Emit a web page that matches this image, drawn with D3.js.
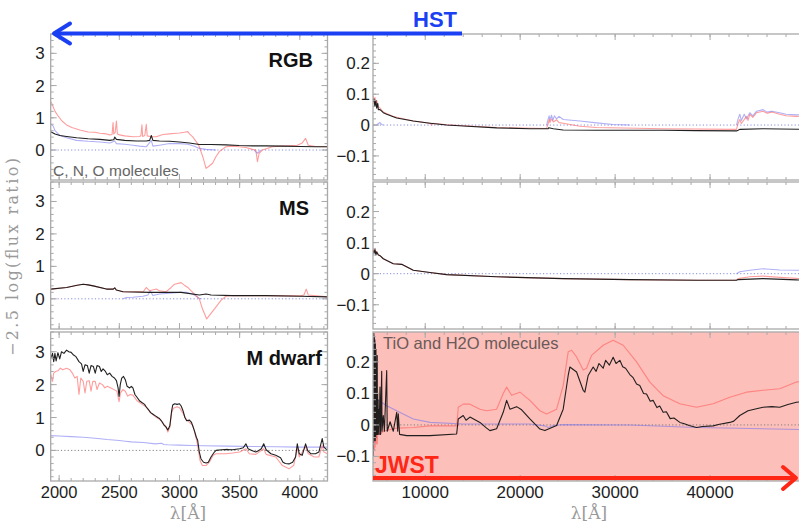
<!DOCTYPE html>
<html><head><meta charset="utf-8">
<script src="https://cdn.jsdelivr.net/npm/d3@7"></script>
<style>html,body{margin:0;padding:0;background:#fff;} svg{display:block;}</style>
</head><body><svg id="chart" width="799" height="523"></svg>
<script>
// ---------- data: [wavelength (Å), -2.5 log(flux ratio)] ----------
// RGB, optical (HST) range
const rgbOptRed = [[1930,1.5],[1938,1.45],[1966,1.2],[1993,1.05],[2024,0.9],[2062,0.78],[2106,0.7],[2172,0.62],[2241,0.56],[2297,0.55],[2338,0.52],[2393,0.5],[2421,0.47],[2440,0.48],[2448,0.85],[2454,0.5],[2466,0.55],[2476,0.9],[2484,0.5],[2503,0.47],[2545,0.44],[2613,0.41],[2669,0.42],[2680,0.45],[2688,0.78],[2694,0.42],[2712,0.45],[2724,0.8],[2732,0.44],[2766,0.41],[2807,0.41],[2862,0.48],[2917,0.5],[2973,0.52],[3000,0.53],[3041,0.55],[3069,0.57],[3083,0.5],[3110,0.41],[3151,0.2],[3165,0.1],[3193,-0.2],[3221,-0.57],[3240,-0.52],[3275,-0.41],[3304,-0.2],[3331,-0.05],[3386,0.1],[3441,0.12],[3496,0.1],[3552,0.08],[3607,0.02],[3634,0],[3648,-0.36],[3662,-0.1],[3689,0],[3772,0.1],[3855,0.12],[3979,0.15],[4020,0.22],[4048,0.36],[4070,0.15],[4131,0.11],[4230,0.1]];
const rgbOptBlack = [[1930,0.57],[1966,0.5],[2007,0.45],[2062,0.42],[2145,0.38],[2241,0.35],[2338,0.33],[2421,0.3],[2454,0.32],[2462,0.4],[2476,0.33],[2545,0.3],[2642,0.28],[2724,0.28],[2752,0.3],[2766,0.45],[2779,0.3],[2834,0.28],[2917,0.27],[3000,0.25],[3083,0.22],[3165,0.17],[3262,0.17],[3386,0.16],[3496,0.14],[3607,0.13],[3717,0.13],[3855,0.12],[4007,0.11],[4131,0.1],[4230,0.1]];
const rgbOptBlue = [[1930,0.8],[1950,0.75],[1966,0.6],[2007,0.45],[2062,0.38],[2145,0.3],[2241,0.27],[2338,0.25],[2421,0.22],[2462,0.28],[2476,0.2],[2545,0.18],[2613,0.15],[2669,0.12],[2724,0.1],[2766,0.3],[2779,0.12],[2834,0.15],[2917,0.2],[3000,0.2],[3069,0.18],[3124,0.12],[3165,0.05],[3221,0.02],[3304,0],[3310,null],[3610,null],[3620,0],[3648,-0.1],[3675,0],[3680,null]];
// RGB, infrared (JWST) range
const rgbIrBlack = [[4535,0.075],[4600,0.085],[4700,0.06],[4800,0.08],[4890,0.055],[5000,0.07],[5060,0.05],[5237,0.05],[5416,0.045],[5584,0.04],[5942,0.035],[6637,0.027],[6995,0.023],[8742,0.013],[10500,0.006],[12258,0],[14005,-0.003],[17521,-0.009],[21026,-0.012],[22953,-0.012],[23000,-0.009],[23500,-0.012],[24532,-0.016],[28047,-0.017],[31553,-0.017],[35058,-0.017],[38574,-0.018],[42784,-0.019],[42953,-0.017],[43131,-0.014],[45584,-0.012],[47342,-0.013],[50000,-0.014]];
const rgbIrRed = [[4535,0.095],[4600,0.07],[4710,0.09],[4800,0.065],[4890,0.08],[5060,0.06],[5237,0.055],[5584,0.042],[6637,0.028],[8742,0.013],[10500,0.006],[10700,0],[10800,0.006],[12258,0.001],[17521,-0.008],[22784,-0.011],[22953,0.005],[23050,0.018],[23131,0.008],[23300,0.02],[23500,0.01],[23837,0.017],[24100,0.008],[24532,0.006],[26289,-0.004],[28047,-0.008],[35058,-0.012],[42784,-0.014],[42953,0.005],[43131,0.018],[43300,0.005],[43837,0.028],[44000,0.015],[44184,0.035],[44500,0.025],[44900,0.04],[45584,0.045],[46000,0.038],[46500,0.042],[47342,0.035],[48000,0.03],[49100,0.028],[50000,0.03]];
const rgbIrBlue = [[4535,0],[4890,0],[5060,0.005],[5237,0.008],[5416,0.002],[5584,0],[5600,null],[22700,null],[22784,0],[22953,0.02],[23050,0.03],[23131,0.015],[23300,0.032],[23450,0.015],[23600,0.03],[23837,0.02],[24100,0.028],[24532,0.018],[26289,0.013],[28047,0.007],[29795,0.002],[31553,0],[31600,null],[42700,null],[42784,0],[42953,0.02],[43131,0.035],[43300,0.015],[43600,0.035],[43837,0.02],[44184,0.04],[44500,0.03],[44900,0.045],[45584,0.05],[46000,0.042],[46500,0.045],[47342,0.04],[48000,0.035],[49100,0.033],[50000,0.035]];

// MS, optical range
const msOptBlack = [[1930,0.3],[2062,0.35],[2150,0.42],[2200,0.45],[2241,0.43],[2283,0.4],[2393,0.3],[2450,0.3],[2462,0.34],[2475,0.27],[2531,0.22],[2752,0.2],[2944,0.2],[3014,0.2],[3165,0.12],[3221,0.15],[3262,0.12],[3441,0.1],[3717,0.1],[4007,0.08],[4230,0.06]];
const msOptRed = [[1930,0.3],[2062,0.35],[2150,0.42],[2200,0.45],[2241,0.43],[2283,0.4],[2393,0.3],[2450,0.3],[2462,0.34],[2475,0.27],[2531,0.22],[2700,0.22],[2724,0.35],[2750,0.25],[2807,0.3],[2834,0.25],[2890,0.22],[2931,0.35],[2958,0.45],[3014,0.5],[3041,0.42],[3069,0.35],[3110,0.2],[3165,0],[3190,-0.3],[3226,-0.62],[3262,-0.45],[3304,-0.25],[3345,-0.05],[3386,0.08],[3441,0.1],[3717,0.1],[4007,0.09],[4034,0.12],[4053,0.3],[4070,0.12],[4230,0.06]];
const msOptBlue = [[2525,null],[2531,0],[2560,0.04],[2613,0.05],[2696,0.08],[2738,0.12],[2757,0.25],[2779,0.1],[2834,0.15],[2944,0.18],[3000,0.2],[3055,0.2],[3110,0.15],[3165,0.02],[3180,0],[3185,null]];
// MS, infrared range
const msIrBlack = [[4535,0.075],[4600,0.065],[4710,0.078],[4800,0.06],[4890,0.07],[5060,0.06],[5237,0.058],[5584,0.048],[6637,0.032],[7521,0.03],[8742,0.011],[10500,0.004],[12258,-0.003],[17521,-0.01],[24532,-0.016],[31553,-0.019],[38574,-0.021],[42784,-0.021],[42953,-0.019],[45584,-0.016],[49100,-0.02],[50000,-0.021]];
const msIrRed = [[4535,0.08],[4600,0.068],[4710,0.082],[4800,0.062],[4890,0.072],[5060,0.062],[5237,0.058],[5584,0.048],[6637,0.032],[7521,0.03],[8742,0.011],[10500,0.004],[12258,-0.003],[17521,-0.01],[24532,-0.016],[31553,-0.019],[38574,-0.021],[42784,-0.021],[42953,-0.016],[44184,-0.01],[45584,-0.008],[47342,-0.012],[49100,-0.015],[50000,-0.016]];
const msIrBlue = [[4535,0],[4560,null],[42700,null],[42784,0],[43131,0.006],[44184,0.011],[45584,0.016],[47342,0.012],[49100,0.011],[50000,0.011]];

// M dwarf, optical range
const mdOptBlack = [[1930,2.8],[1945,2.95],[1955,2.7],[1965,2.95],[1975,2.72],[1990,2.97],[2005,2.78],[2020,3.0],[2040,2.95],[2062,3.05],[2080,3.0],[2100,2.98],[2120,2.9],[2140,2.85],[2165,2.7],[2186,2.63],[2200,2.4],[2215,2.6],[2235,2.58],[2250,2.35],[2265,2.58],[2285,2.55],[2300,2.35],[2315,2.58],[2335,2.55],[2350,2.4],[2365,2.48],[2385,2.4],[2400,2.3],[2420,2.35],[2440,2.25],[2460,2.2],[2476,2.12],[2490,1.9],[2498,1.64],[2508,2.0],[2520,2.2],[2535,2.25],[2550,2.15],[2565,1.95],[2586,1.9],[2600,1.95],[2613,1.9],[2630,1.7],[2650,1.6],[2670,1.5],[2690,1.45],[2710,1.4],[2724,1.32],[2740,1.25],[2760,1.15],[2780,1.1],[2800,1.05],[2820,1.0],[2834,0.97],[2850,0.9],[2870,0.78],[2890,0.7],[2903,0.62],[2920,0.75],[2935,1.2],[2944,1.38],[2960,1.42],[2980,1.4],[3000,1.42],[3014,1.35],[3030,1.2],[3045,1.0],[3060,0.9],[3083,0.92],[3100,0.85],[3124,0.6],[3140,0.4],[3151,0.31],[3165,-0.05],[3179,-0.26],[3200,-0.36],[3221,-0.38],[3240,-0.36],[3262,-0.2],[3290,-0.05],[3304,0],[3350,0.02],[3400,0.03],[3441,0.02],[3500,0.05],[3530,0.08],[3552,0.2],[3570,0.05],[3600,0],[3634,-0.05],[3660,0.0],[3680,0.05],[3700,0.2],[3720,0.02],[3760,-0.1],[3800,-0.15],[3840,-0.22],[3860,-0.36],[3880,-0.4],[3910,-0.41],[3940,-0.36],[3965,-0.2],[3979,0.2],[3995,-0.1],[4020,-0.15],[4048,0.2],[4065,0.0],[4090,-0.1],[4130,-0.1],[4158,-0.05],[4186,0.36],[4200,0.1],[4230,0.0]];
const mdOptRed = [[1930,2.3],[1945,2.1],[1955,2.35],[1970,2.4],[1990,2.42],[2010,2.5],[2030,2.45],[2062,2.5],[2090,2.45],[2110,2.35],[2130,2.2],[2150,2.25],[2165,1.7],[2180,2.2],[2200,2.1],[2215,1.75],[2230,2.1],[2250,2.12],[2265,1.8],[2280,2.1],[2300,2.1],[2315,1.85],[2335,2.05],[2360,2.0],[2380,1.9],[2400,1.95],[2430,1.9],[2460,1.84],[2480,1.8],[2498,1.48],[2510,1.75],[2530,1.85],[2550,1.8],[2570,1.65],[2590,1.7],[2613,1.68],[2650,1.5],[2690,1.4],[2724,1.32],[2760,1.15],[2800,1.02],[2834,0.95],[2870,0.8],[2890,0.72],[2903,0.56],[2920,0.7],[2935,1.15],[2950,1.28],[2980,1.33],[3000,1.3],[3030,1.12],[3055,0.95],[3083,0.85],[3110,0.77],[3140,0.35],[3151,0.15],[3170,-0.3],[3190,-0.46],[3221,-0.46],[3250,-0.35],[3280,-0.15],[3304,-0.1],[3386,-0.1],[3441,-0.08],[3500,-0.05],[3552,0.05],[3580,-0.1],[3634,-0.12],[3700,0.05],[3720,-0.12],[3800,-0.2],[3855,-0.46],[3910,-0.56],[3950,-0.45],[3979,0.1],[3995,-0.2],[4048,0.12],[4070,-0.1],[4120,-0.2],[4158,-0.2],[4186,0.15],[4200,-0.05],[4230,-0.1]];
const mdOptBlue = [[1930,0.45],[2000,0.44],[2100,0.42],[2200,0.4],[2300,0.37],[2400,0.33],[2500,0.3],[2550,0.28],[2600,0.26],[2700,0.24],[2800,0.2],[2850,0.22],[2870,0.18],[2900,0.17],[3000,0.16],[3100,0.15],[3200,0.14],[3400,0.13],[3600,0.12],[3800,0.11],[4000,0.1],[4230,0.1]];
// M dwarf, infrared range (dense TiO band forest below ~6000 Å)
const mdIrBlack = [[4510,-0.1],[4520,0.28],[4530,-0.08],[4545,0.29],[4555,-0.06],[4570,0.27],[4580,-0.03],[4592,0.29],[4605,-0.05],[4618,0.26],[4630,-0.02],[4645,0.28],[4658,0.0],[4670,0.25],[4682,-0.04],[4695,0.27],[4708,-0.02],[4720,0.22],[4735,-0.05],[4750,0.26],[4765,-0.01],[4780,0.2],[4795,-0.04],[4810,0.24],[4825,0.0],[4840,0.18],[4855,-0.03],[4870,0.2],[4890,0.0],[4910,0.15],[4925,-0.03],[4945,0.22],[4965,-0.02],[4990,0.1],[5010,-0.03],[5040,0.08],[5060,-0.02],[5100,0.05],[5140,-0.03],[5237,0.12],[5300,-0.03],[5416,0.17],[5450,-0.02],[5584,0.03],[5700,-0.02],[5942,0.173],[6000,-0.02],[6300,0.01],[6637,-0.02],[6995,0.04],[7100,-0.02],[7163,0.035],[7300,-0.03],[8047,-0.034],[10500,-0.034],[13310,-0.029],[13416,0.0],[13479,0.019],[14005,0.03],[14300,0.015],[14710,0.025],[15763,0.008],[16468,-0.01],[16816,-0.018],[17521,-0.012],[18216,0.04],[18574,0.078],[18921,0.05],[19626,0.058],[20153,0.048],[21026,0.019],[22079,-0.013],[22605,-0.018],[23837,-0.002],[24532,0.05],[25058,0.157],[25237,0.184],[25942,0.168],[26637,0.11],[26815,0.104],[27163,0.157],[27689,0.184],[28000,0.17],[28300,0.195],[28742,0.18],[29000,0.205],[29400,0.19],[29795,0.215],[30100,0.195],[30500,0.205],[30800,0.185],[31100,0.18],[31553,0.16],[31900,0.15],[32258,0.13],[32600,0.125],[33000,0.1],[33311,0.098],[33700,0.075],[34000,0.078],[34400,0.055],[34700,0.06],[35058,0.04],[35400,0.042],[35800,0.02],[36200,0.022],[36816,0.008],[37300,0.004],[37800,-0.002],[38574,-0.008],[39200,-0.005],[40321,-0.003],[41000,0.002],[42079,0.008],[42500,0.012],[43131,0.03],[44000,0.045],[45000,0.052],[45584,0.056],[46500,0.058],[47342,0.056],[48200,0.065],[49100,0.072],[50000,0.075]];
const mdIrRed = [[4510,-0.09],[4525,0.2],[4540,-0.1],[4560,0.22],[4575,-0.08],[4595,0.18],[4610,-0.07],[4630,0.2],[4650,-0.08],[4670,0.15],[4690,-0.06],[4710,0.12],[4730,-0.07],[4760,0.1],[4790,-0.05],[4820,0.06],[4850,-0.06],[4890,-0.03],[4950,-0.06],[5000,-0.02],[5237,-0.03],[5584,-0.02],[6995,-0.01],[8742,-0.008],[10500,-0.003],[13310,-0.003],[13416,0.03],[13479,0.056],[14005,0.066],[14710,0.066],[15763,0.05],[16468,0.045],[17521,0.05],[18216,0.1],[18574,0.12],[19100,0.094],[19974,0.104],[21026,0.078],[22079,0.045],[22784,0.035],[23837,0.05],[24532,0.125],[25058,0.232],[25416,0.237],[25942,0.216],[26637,0.174],[26994,0.18],[27521,0.221],[28742,0.253],[29795,0.269],[30847,0.253],[32258,0.2],[33658,0.136],[35058,0.093],[36816,0.067],[38574,0.056],[40321,0.067],[42079,0.088],[43837,0.104],[45584,0.11],[47342,0.115],[49100,0.136],[50000,0.14]];
const mdIrBlue = [[4535,0.089],[5942,0.061],[6995,0.045],[8742,0.019],[10500,0.008],[14005,0.003],[21026,0.003],[22605,-0.003],[22953,-0.008],[23500,-0.002],[24532,0.001],[31553,0],[38574,-0.008],[50000,-0.015]];

// ---------- axes ----------
const starTypes = ["RGB", "MS", "M dwarf"];
const optWaveDomain = [1930, 4230];
const irWaveDomain = [4500, 50000];
const optFluxDomain = [-0.93, 3.6];
const irFluxDomain = [-0.178, 0.295];
const optTickLabels = [2000, 2500, 3000, 3500, 4000];
const irTickLabels = [10000, 20000, 30000, 40000];
const optYTickLabels = [0, 1, 2, 3];
const irYTickLabels = [-0.1, 0, 0.1, 0.2];

const optSeries = [
  {blue: rgbOptBlue, red: rgbOptRed, black: rgbOptBlack},
  {blue: msOptBlue, red: msOptRed, black: msOptBlack},
  {blue: mdOptBlue, red: mdOptRed, black: mdOptBlack}
];
const irSeries = [
  {blue: rgbIrBlue, red: rgbIrRed, black: rgbIrBlack},
  {blue: msIrBlue, red: msIrRed, black: msIrBlack},
  {blue: mdIrBlue, red: mdIrRed, black: mdIrBlack}
];

// ---------- layout ----------
const svg = d3.select("#chart");
const SANS = "'Liberation Sans', Arial, Helvetica, sans-serif";
const SERIF = "'DejaVu Serif', 'Liberation Serif', serif";
const rows = [{top: 34, h: 146}, {top: 182, h: 147}, {top: 332, h: 149}];
const labelEnds = [313, 309, 322];
const xOpt = d3.scaleLinear().domain(optWaveDomain).range([50.7, 327.5]);
const xIr = d3.scaleLinear().domain(irWaveDomain).range([373, 805]);
const FRAME = "#a9a9a9";

const colors = {blue: "#6f6ff0", red: "#ff5c5c", black: "#151515"};
const opac = {blue: 0.55, red: 0.6, black: 0.95};

function ticks(g, x, y, xMajor, xMinor, yMajor, yMinor, drawRight) {
  const [x0, x1] = x.range();
  const [yb, yt] = y.range();
  const tg = g.append("g").attr("stroke", FRAME).attr("stroke-width", 1);
  const addX = (vals, len) => {
    tg.selectAll(null).data(vals).enter().append("line")
      .attr("x1", d => x(d)).attr("x2", d => x(d)).attr("y1", yb).attr("y2", yb - len);
    tg.selectAll(null).data(vals).enter().append("line")
      .attr("x1", d => x(d)).attr("x2", d => x(d)).attr("y1", yt).attr("y2", yt + len);
  };
  const addY = (vals, len) => {
    tg.selectAll(null).data(vals).enter().append("line")
      .attr("x1", x0).attr("x2", x0 + len).attr("y1", d => y(d)).attr("y2", d => y(d));
    if (drawRight) tg.selectAll(null).data(vals).enter().append("line")
      .attr("x1", x1).attr("x2", x1 - len).attr("y1", d => y(d)).attr("y2", d => y(d));
  };
  addX(xMajor, 6); addX(xMinor, 3);
  addY(yMajor, 6); addY(yMinor, 3);
}

function range(a, b, step) {
  const out = [];
  for (let v = a; v <= b + 1e-9; v += step) out.push(+v.toFixed(6));
  return out;
}

rows.forEach((row, i) => {
  const yOpt = d3.scaleLinear().domain(optFluxDomain).range([row.top + row.h, row.top]);
  const yIr = d3.scaleLinear().domain(irFluxDomain).range([row.top + row.h, row.top]);

  [[xOpt, yOpt, optSeries[i], "opt"], [xIr, yIr, irSeries[i], "ir"]].forEach(([x, y, ser, side]) => {
    const id = `clip-${side}-${i}`;
    const [x0, x1] = x.range();
    svg.append("clipPath").attr("id", id).append("rect")
      .attr("x", x0).attr("y", row.top).attr("width", x1 - x0).attr("height", row.h);
    const g = svg.append("g");
    const plot = g.append("g").attr("clip-path", `url(#${id})`);
    if (side === "ir" && i === 2) {
      plot.append("rect").attr("x", x0).attr("y", row.top).attr("width", x1 - x0).attr("height", row.h)
        .attr("fill", "#fcbfba");
    }
    // zero reference
    plot.append("line").attr("x1", x0).attr("x2", x1).attr("y1", y(0)).attr("y2", y(0))
      .attr("stroke", i === 2 ? "#777" : "#7c82d8").attr("stroke-width", 1)
      .attr("stroke-dasharray", "1.2,2.2").attr("opacity", 0.9);
    const line = d3.line().defined(d => d[1] !== null).x(d => x(d[0])).y(d => y(d[1]));
    ["blue", "red", "black"].forEach(k => {
      plot.append("path").datum(ser[k]).attr("d", line)
        .attr("fill", "none").attr("stroke", colors[k]).attr("stroke-opacity", opac[k])
        .attr("stroke-width", 1.1).attr("stroke-linejoin", "round");
    });
    // frame
    g.append("rect").attr("x", x0).attr("y", row.top).attr("width", x1 - x0).attr("height", row.h)
      .attr("fill", "none").attr("stroke", FRAME).attr("stroke-width", 1.3);
    if (side === "opt") {
      ticks(g, x, y, range(2000, 4000, 500), range(2000, 4200, 100), optYTickLabels, range(-0.8, 3.6, 0.2), true);
      g.selectAll(null).data(optYTickLabels).enter().append("text")
        .attr("x", x0 - 6).attr("y", d => y(d) + 6).attr("text-anchor", "end")
        .attr("font-family", SANS).attr("font-size", 17).attr("fill", "#1e1e1e").text(d => d3.format("d")(d));
    } else {
      ticks(g, x, y, range(10000, 50000, 10000), range(6000, 50000, 2000), irYTickLabels, range(-0.16, 0.28, 0.02), false);
      g.selectAll(null).data(irYTickLabels).enter().append("text")
        .attr("x", x0 - 3).attr("y", d => y(d) + 6).attr("text-anchor", "end")
        .attr("font-family", SANS).attr("font-size", 17).attr("fill", "#1e1e1e")
        .text(d => d === 0 ? "0" : d3.format(".1f")(d));
    }
  });

  svg.append("text").attr("x", labelEnds[i]).attr("y", row.top + 33).attr("text-anchor", "end")
    .attr("font-family", SANS).attr("font-weight", "bold").attr("font-size", 20).attr("fill", "#111")
    .text(starTypes[i]);
});

// x tick labels on the bottom row
const bottom = rows[2].top + rows[2].h;
svg.selectAll(null).data(optTickLabels).enter().append("text")
  .attr("x", d => xOpt(d)).attr("y", bottom + 17).attr("text-anchor", "middle")
  .attr("font-family", SANS).attr("font-size", 16.5).attr("fill", "#1e1e1e").text(d => d);
svg.selectAll(null).data(irTickLabels).enter().append("text")
  .attr("x", d => xIr(d)).attr("y", bottom + 17).attr("text-anchor", "middle")
  .attr("font-family", SANS).attr("font-size", 17).attr("fill", "#1e1e1e").text(d => d);

// axis titles
[188, 589].forEach(cx => {
  svg.append("text").attr("x", cx).attr("y", 519).attr("text-anchor", "middle")
    .attr("font-family", SERIF).attr("font-size", 17).attr("fill", "#9a9a9a").text("λ[Å]");
});
svg.append("text").attr("transform", "translate(18,257) rotate(-90)").attr("text-anchor", "middle")
  .attr("font-family", SERIF).attr("font-size", 16).attr("fill", "#9a9a9a")
  .attr("textLength", 198).attr("lengthAdjust", "spacing")
  .text("−2.5 log(flux ratio)");

// molecule notes
svg.append("text").attr("x", 53).attr("y", 176).attr("font-family", SANS).attr("font-size", 15.5)
  .attr("fill", "#666").text("C, N, O molecules");
svg.append("text").attr("x", 383).attr("y", 349).attr("font-family", SANS).attr("font-size", 16.5)
  .attr("fill", "#6b5a58").text("TiO and H2O molecules");

// HST coverage arrow (pointing to shorter wavelengths)
const blueArrow = "#1b3ff2";
svg.append("line").attr("x1", 54).attr("x2", 462).attr("y1", 33.5).attr("y2", 33.5)
  .attr("stroke", blueArrow).attr("stroke-width", 4);
svg.append("path").attr("d", "M70,23.5 L54,33.5 L70,43.5").attr("fill", "none")
  .attr("stroke", blueArrow).attr("stroke-width", 4).attr("stroke-linecap", "round").attr("stroke-linejoin", "round");
svg.append("text").attr("x", 413).attr("y", 27).attr("font-family", SANS).attr("font-weight", "bold")
  .attr("font-size", 22).attr("fill", blueArrow).text("HST");

// JWST coverage arrow (pointing to longer wavelengths)
const redArrow = "#ff2616";
svg.append("line").attr("x1", 373).attr("x2", 795).attr("y1", 478).attr("y2", 478)
  .attr("stroke", redArrow).attr("stroke-width", 4);
svg.append("path").attr("d", "M783,467 L796,478 L783,489").attr("fill", "none")
  .attr("stroke", redArrow).attr("stroke-width", 4).attr("stroke-linecap", "round").attr("stroke-linejoin", "round");
svg.append("text").attr("x", 375).attr("y", 473).attr("font-family", SANS).attr("font-weight", "bold")
  .attr("font-size", 23).attr("fill", redArrow).text("JWST");
</script>
</body></html>
